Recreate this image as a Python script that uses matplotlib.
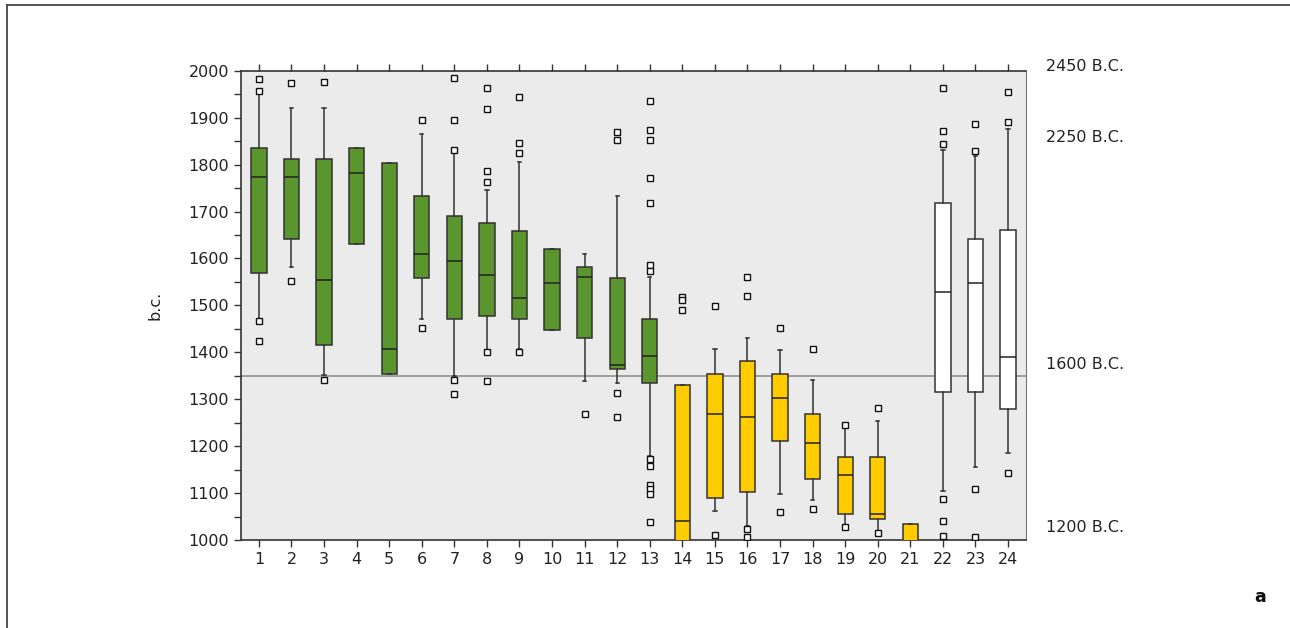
import matplotlib
matplotlib.use('Agg')
from matplotlib import pyplot as plt
from matplotlib.lines import Line2D
from matplotlib.ticker import MultipleLocator

plt.rcParams['font.family'] = ['DejaVu Sans']

# site numbers
sites = list(range(1, 25))

# box statistics (b.c. years)
q1 = [1568, 1641, 1415, 1630, 1354, 1558, 1472, 1478, 1472, 1447, 1430, 1364,
      1335, 985, 1090, 1102, 1210, 1131, 1055, 1045, 985, 1315, 1315, 1280]
med = [1774, 1774, 1554, 1781, 1407, 1609, 1594, 1565, 1516, 1548, 1560, 1372,
       1393, 1040, 1268, 1262, 1303, 1207, 1139, 1055, 990, 1528, 1547, 1391]
q3 = [1835, 1812, 1812, 1835, 1804, 1734, 1691, 1675, 1659, 1621, 1581, 1558,
      1471, 1330, 1354, 1381, 1354, 1268, 1177, 1176, 1035, 1719, 1641, 1660]
whislo = [1467, 1581, 1352, 1630, 1354, 1472, 1350, 1400, 1406, 1447, 1338, 1334,
          1178, 985, 1061, 1030, 1099, 1085, 1032, 1018, 985, 1104, 1156, 1185]
whishi = [1952, 1921, 1920, 1835, 1804, 1865, 1825, 1745, 1805, 1621, 1610, 1732,
          1560, 1330, 1408, 1430, 1405, 1340, 1241, 1254, 1035, 1831, 1819, 1876]
fliers = [
    [1982, 1957, 1467, 1425],
    [1974, 1551],
    [1976, 1342],
    [],
    [],
    [1895, 1451],
    [1984, 1895, 1832, 1342, 1312],
    [1963, 1918, 1786, 1762, 1400, 1339],
    [1944, 1845, 1825, 1400],
    [],
    [1269],
    [1869, 1853, 1314, 1262],
    [1935, 1874, 1852, 1772, 1719, 1587, 1574, 1173, 1157, 1117, 1109, 1098, 1038],
    [1518, 1511, 1491],
    [1498, 1011],
    [1560, 1519, 1024, 1007],
    [1451, 1060],
    [1406, 1066],
    [1246, 1028],
    [1281, 1014],
    [],
    [1963, 1872, 1844, 1088, 1040, 1008],
    [1886, 1829, 1108, 1007],
    [1954, 1891, 1143],
]
groups = ['green'] * 13 + ['yellow'] * 8 + ['white'] * 3
group_color = {'green': '#5a952e', 'yellow': '#ffcc00', 'white': '#ffffff'}

ref_level = 1350
right_labels = ['2450 B.C.', '2250 B.C.', '1600 B.C.', '1200 B.C.']
right_pos = [2008, 1857, 1375, 1026]

fig = plt.figure(figsize=(12.9, 6.28), dpi=100)
ax = fig.add_axes([0.1868, 0.1401, 0.6085, 0.7473])
ax.set_facecolor('#ebebeb')

stats = []
for i in range(len(sites)):
    stats.append({'med': med[i], 'q1': q1[i], 'q3': q3[i],
                  'whislo': whislo[i], 'whishi': whishi[i],
                  'fliers': fliers[i]})

ax.axhline(ref_level, color='#999999', lw=1.3, zorder=1)

bp = ax.bxp(stats, positions=sites, widths=0.47, capwidths=0.1,
            patch_artist=True, manage_ticks=False,
            boxprops=dict(edgecolor='#333333', linewidth=1.1),
            medianprops=dict(color='#222222', linewidth=1.1),
            whiskerprops=dict(color='#333333', linewidth=1.1),
            capprops=dict(color='#333333', linewidth=1.1),
            flierprops=dict(marker='s', markersize=5, markerfacecolor='white',
                            markeredgecolor='#111111', markeredgewidth=1.0))
for patch, g in zip(bp['boxes'], groups):
    patch.set_facecolor(group_color[g])
    patch.set_zorder(3)
for key in ['medians', 'whiskers', 'caps', 'fliers']:
    for a in bp[key]:
        a.set_zorder(4)

ax.set_xlim(0.45, 24.55)
ax.set_ylim(1000, 2000)
ax.set_xticks(sites)
ax.set_xticklabels([str(s) for s in sites])
ax.yaxis.set_major_locator(MultipleLocator(100))
ax.yaxis.set_minor_locator(MultipleLocator(50))
ax.tick_params(axis='both', which='both', direction='out', length=5,
               width=1, color='#333333', labelsize=11.5, labelcolor='#222222')
ax.tick_params(axis='x', top=True, labeltop=False)
ax.tick_params(axis='y', right=False)

for side in ['left', 'bottom', 'top']:
    ax.spines[side].set_color('#333333')
    ax.spines[side].set_linewidth(1.2)
ax.spines['right'].set_color('#777777')

ax.set_ylabel('b.c.', fontsize=11.5, color='#222222')
ax.yaxis.set_label_coords(-0.1, 0.5)

for lab, y in zip(right_labels, right_pos):
    ax.text(1.0255, y, lab, transform=ax.get_yaxis_transform(),
            ha='left', va='center', fontsize=11.5, color='#222222')

fig.text(0.977, 0.049, 'a', ha='center', va='center', fontsize=12.5,
         fontweight='bold', color='#111111')

# frame lines on left and top edge
fig.add_artist(Line2D([7 / 1290, 7 / 1290], [0, 1 - 5 / 628],
                      transform=fig.transFigure, color='#444444', lw=1.3))
fig.add_artist(Line2D([7 / 1290, 1], [1 - 5 / 628, 1 - 5 / 628],
                      transform=fig.transFigure, color='#444444', lw=1.3))

plt.savefig('out.png', dpi=100)
